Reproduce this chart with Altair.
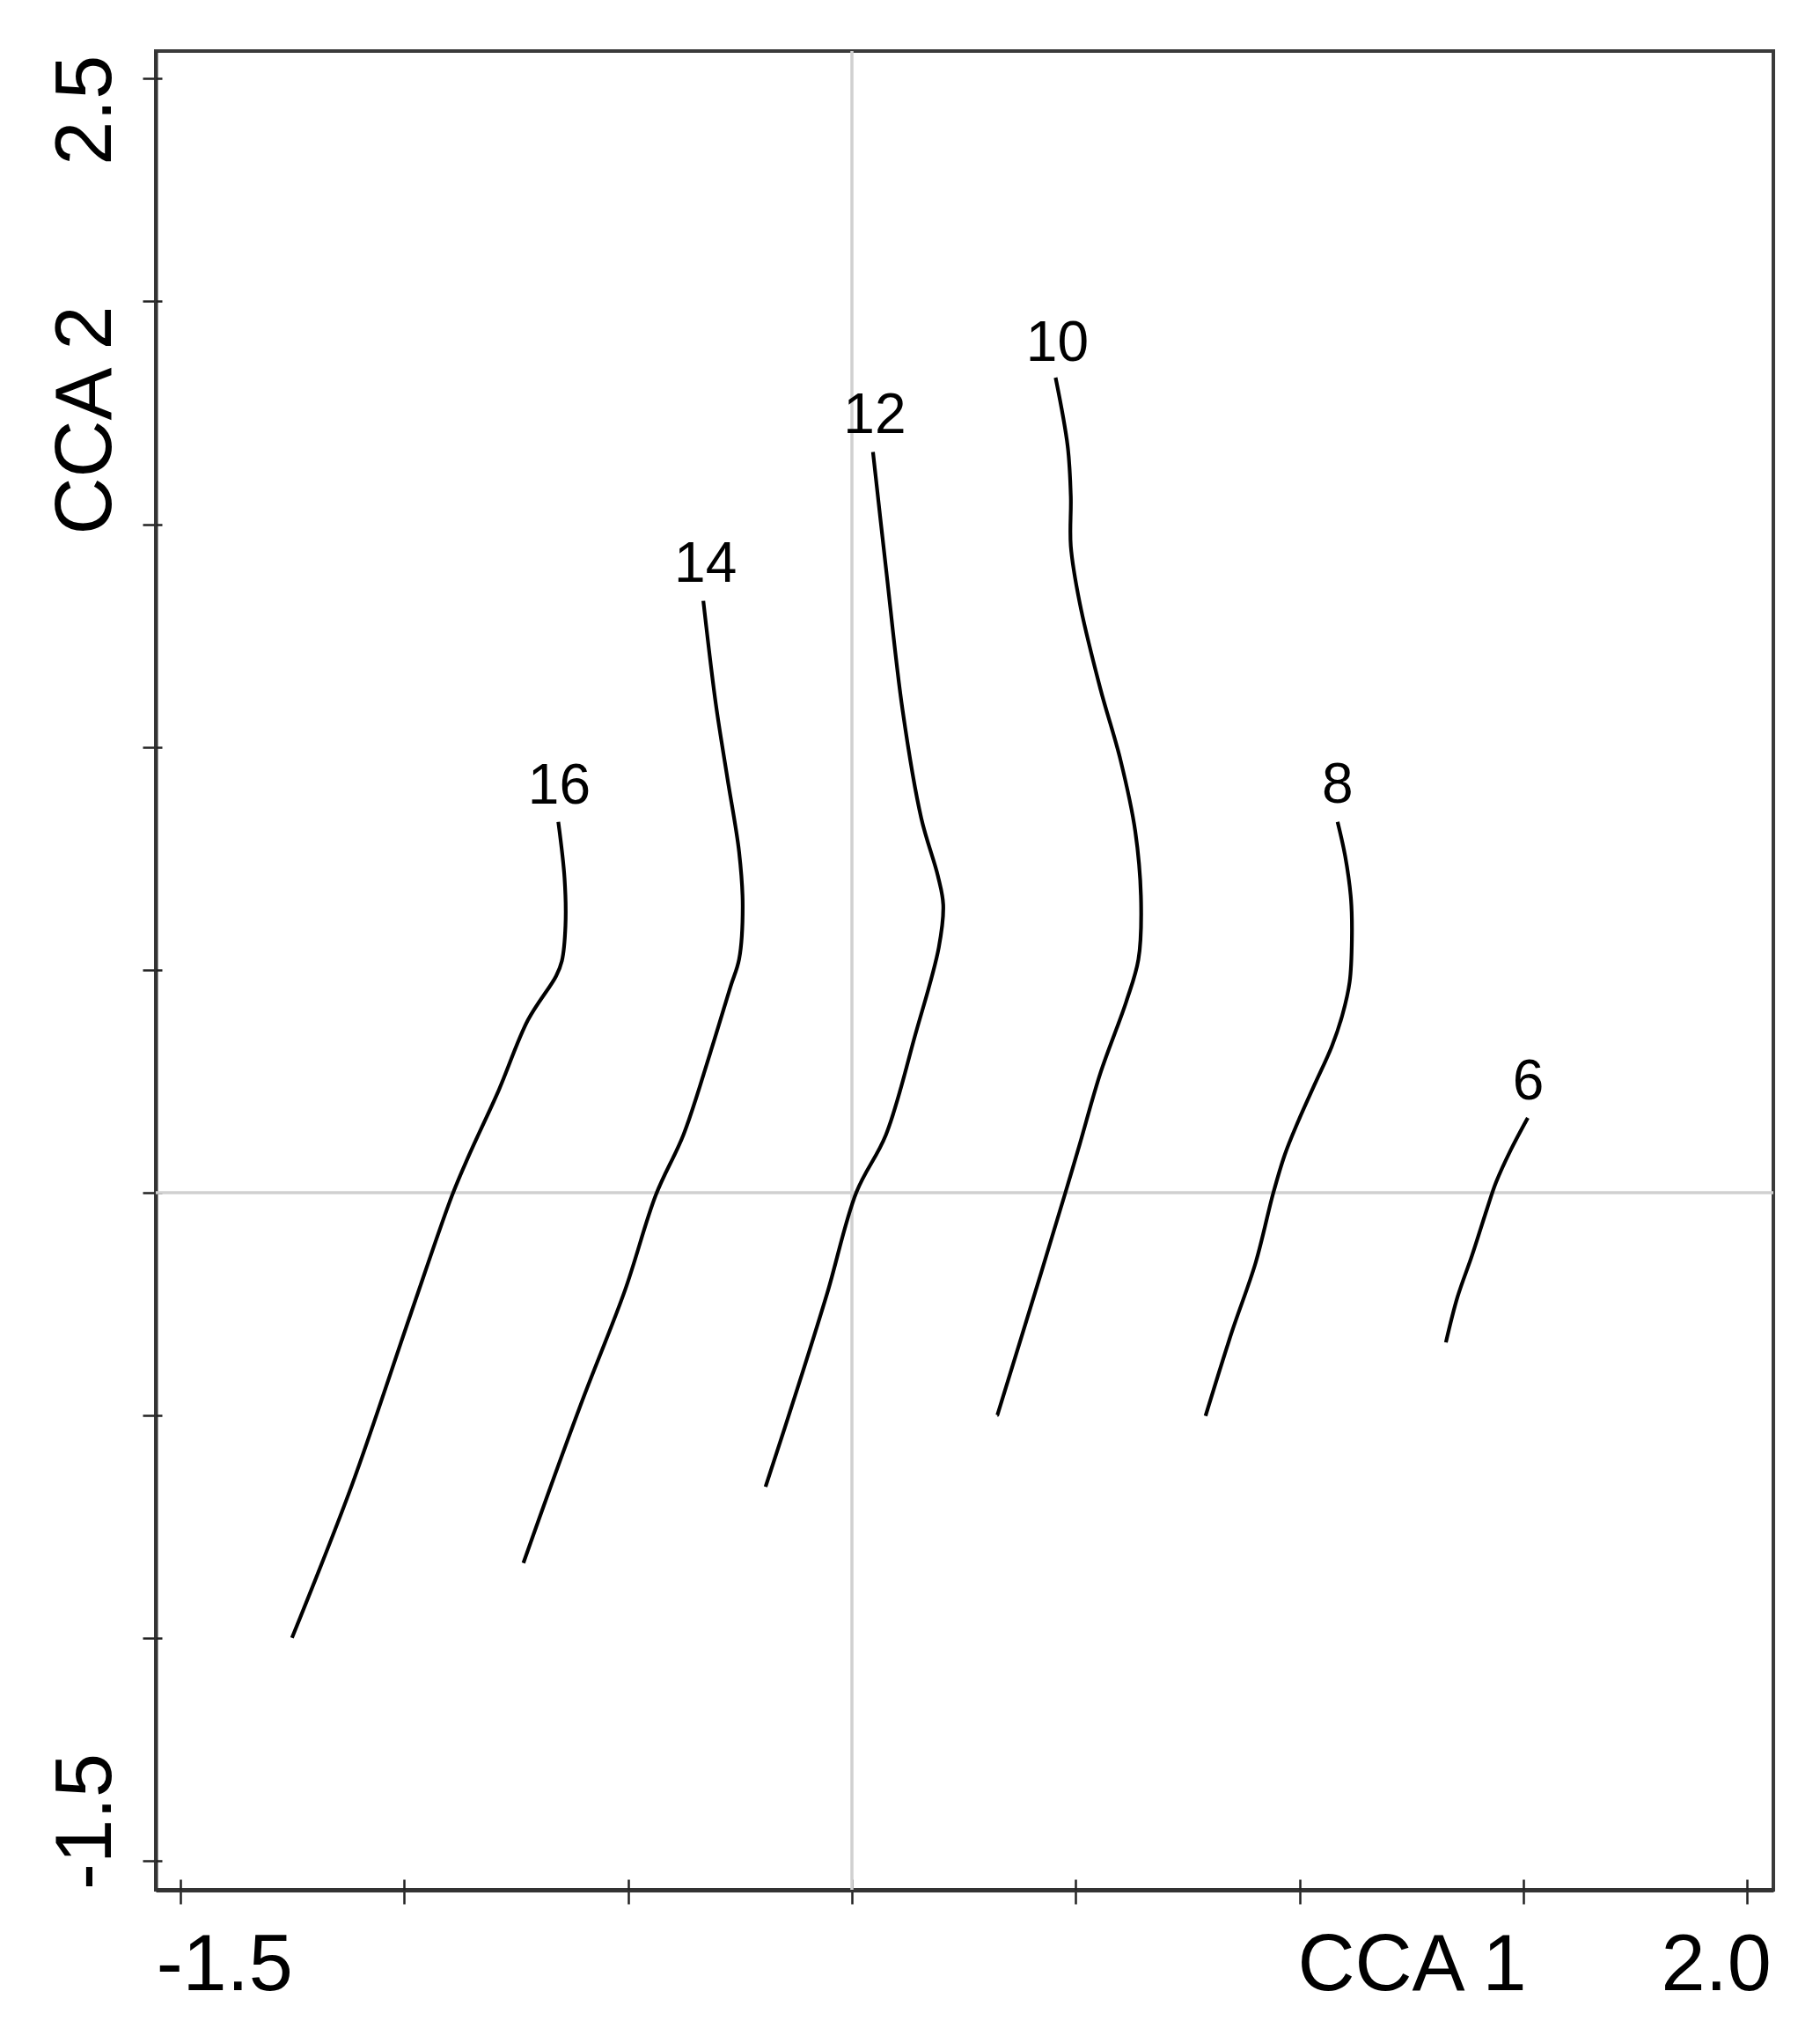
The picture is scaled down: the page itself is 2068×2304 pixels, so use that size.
import altair as alt
import pandas as pd

# ---- data (CCA ordination, fitted contour lines) ----
levels = [16, 14, 12, 10, 8, 6]

c16_x = [-0.656, -0.642, -0.640, -0.648, -0.661, -0.724, -0.789, -0.855, -0.894, -0.986, -1.117, -1.251]
c16_y = [0.832, 0.705, 0.599, 0.520, 0.486, 0.387, 0.230, 0.085, -0.008, -0.273, -0.656, -0.999]

c14_x = [-0.332, -0.304, -0.278, -0.252, -0.244, -0.252, -0.271, -0.317, -0.376, -0.438, -0.507, -0.606, -0.734]
c14_y = [1.328, 1.096, 0.929, 0.764, 0.643, 0.524, 0.463, 0.312, 0.131, -0.005, -0.219, -0.476, -0.831]

c12_x = [0.047, 0.076, 0.113, 0.155, 0.192, 0.204, 0.194, 0.142, 0.076, 0.010, -0.055, -0.120, -0.193]
c12_y = [1.662, 1.402, 1.084, 0.840, 0.711, 0.646, 0.550, 0.356, 0.130, 0.001, -0.225, -0.434, -0.660]

c10_x = [0.455, 0.482, 0.489, 0.489, 0.509, 0.555, 0.600, 0.633, 0.646, 0.640, 0.613, 0.555, 0.509, 0.476, 0.423, 0.325]
c10_y = [1.829, 1.675, 1.563, 1.451, 1.323, 1.131, 0.971, 0.811, 0.651, 0.523, 0.429, 0.268, 0.109, -0.003, -0.179, -0.499]

c8_x = [1.085, 1.102, 1.115, 1.117, 1.112, 1.095, 1.072, 1.033, 0.994, 0.967, 0.941, 0.902, 0.849, 0.790]
c8_y = [0.832, 0.755, 0.658, 0.570, 0.473, 0.396, 0.328, 0.241, 0.153, 0.085, -0.002, -0.157, -0.312, -0.501]

c6_x = [1.510, 1.472, 1.439, 1.419, 1.385, 1.353, 1.327]
c6_y = [0.168, 0.096, 0.023, -0.036, -0.142, -0.234, -0.336]

label_x = [-0.654, -0.327, 0.051, 0.459, 1.085, 1.511]
label_y = [0.910, 1.408, 1.742, 1.904, 0.912, 0.247]

x_ticks = [-1.5, -1.0, -0.5, 0.0, 0.5, 1.0, 1.5, 2.0]
x_tick_labels = ["-1.5", "", "", "", "", "", "", "2.0"]
y_ticks = [-1.5, -1.0, -0.5, 0.0, 0.5, 1.0, 1.5, 2.0, 2.5]
y_tick_labels = ["-1.5", "", "", "", "", "", "", "", "2.5"]

origin = [0.0]

x_title = "CCA 1"
y_title = "CCA 2"

# ---- build tables ----
contours = {16: (c16_x, c16_y), 14: (c14_x, c14_y), 12: (c12_x, c12_y),
            10: (c10_x, c10_y), 8: (c8_x, c8_y), 6: (c6_x, c6_y)}
rows = []
for lev, (xs, ys) in contours.items():
    for i, (a, b) in enumerate(zip(xs, ys)):
        rows.append({"level": lev, "i": i, "x": a, "y": b})
df = pd.DataFrame(rows)
lab = pd.DataFrame({"level": [str(l) for l in levels], "x": label_x, "y": label_y})
zero = pd.DataFrame({"v": origin})


def label_expr(vals, labs):
    parts = [f"abs(datum.value - ({v})) < 1e-6 ? '{t}'" for v, t in zip(vals, labs) if t]
    return " : ".join(parts) + " : ''"


FONT = "Liberation Sans"
xscale = alt.Scale(domain=[-1.5553, 2.0586], nice=False, zero=False)
yscale = alt.Scale(domain=[-1.5643, 2.5617], nice=False, zero=False)

x_axis_main = alt.Axis(
    orient="bottom", values=x_ticks, labelExpr=label_expr(x_ticks, x_tick_labels),
    labelFont=FONT, labelFontSize=90, labelColor="black", labelOverlap=False,
    labelAlign={"condition": {"test": "datum.value < 0", "value": "left"}, "value": "right"},
    labelOffset={"condition": {"test": "datum.value < 0", "value": -28}, "value": 27},
    labelBaseline="alphabetic", labelPadding=97,
    tickSize=16, tickWidth=2.5, tickColor="#222222",
    domainColor="#333333", domainWidth=5, grid=False,
    title=x_title, titleFont=FONT, titleFontSize=90, titleFontWeight="normal", titleColor="black",
    titleX=1297, titleY=113, titleAlign="left", titleBaseline="alphabetic", titleAngle=0,
)
y_axis_main = alt.Axis(
    orient="left", values=y_ticks, labelExpr=label_expr(y_ticks, y_tick_labels),
    labelFont=FONT, labelFontSize=90, labelColor="black", labelOverlap=False, labelAngle=270,
    labelAlign={"condition": {"test": "datum.value > 0", "value": "right"}, "value": "left"},
    labelOffset={"condition": {"test": "datum.value > 0", "value": -27}, "value": 32},
    labelBaseline="alphabetic", labelPadding=37,
    tickSize=15, tickWidth=2.5, tickColor="#222222",
    domainColor="#333333", domainWidth=4, grid=False,
    title=y_title, titleFont=FONT, titleFontSize=90, titleFontWeight="normal", titleColor="black",
    titleX=-52, titleY=549, titleAlign="left", titleBaseline="alphabetic", titleAngle=270,
)
x_axis_inner = alt.Axis(orient="bottom", values=x_ticks, offset=-12, tickSize=12, tickWidth=2.5,
                        tickColor="#222222", labels=False, domain=False, grid=False, title=None)
y_axis_inner = alt.Axis(orient="left", values=y_ticks, offset=-7, tickSize=7, tickWidth=2.5,
                        tickColor="#222222", labels=False, domain=False, grid=False, title=None)

vrule = alt.Chart(zero).mark_rule(color="#d0d0d0", strokeWidth=3.5).encode(
    x=alt.X("v:Q", scale=xscale, axis=None))
hrule = alt.Chart(zero).mark_rule(color="#d0d0d0", strokeWidth=3.5).encode(
    y=alt.Y("v:Q", scale=yscale, axis=None))

lines = alt.Chart(df).mark_line(color="black", strokeWidth=4.2, interpolate="catmull-rom").encode(
    x=alt.X("x:Q", scale=xscale, axis=x_axis_main),
    y=alt.Y("y:Q", scale=yscale, axis=y_axis_main),
    detail="level:N",
    order="i:Q",
)

labels = alt.Chart(lab).mark_text(font=FONT, fontSize=64, color="black",
                                  align="center", baseline="middle").encode(
    x=alt.X("x:Q", scale=xscale, axis=x_axis_inner),
    y=alt.Y("y:Q", scale=yscale, axis=y_axis_inner),
    text="level:N",
)

chart = alt.layer(vrule, hrule, lines, labels).resolve_axis(
    x="independent", y="independent"
).properties(
    width=1838, height=2089,
    autosize=alt.AutoSizeParams(type="none"),
    padding={"left": 169, "top": 50, "right": 45, "bottom": 150},
).configure(background="white").configure_view(stroke="#3a3a3a", strokeWidth=4)

chart.save("out.html", embed_options={"renderer": "svg", "actions": False})
